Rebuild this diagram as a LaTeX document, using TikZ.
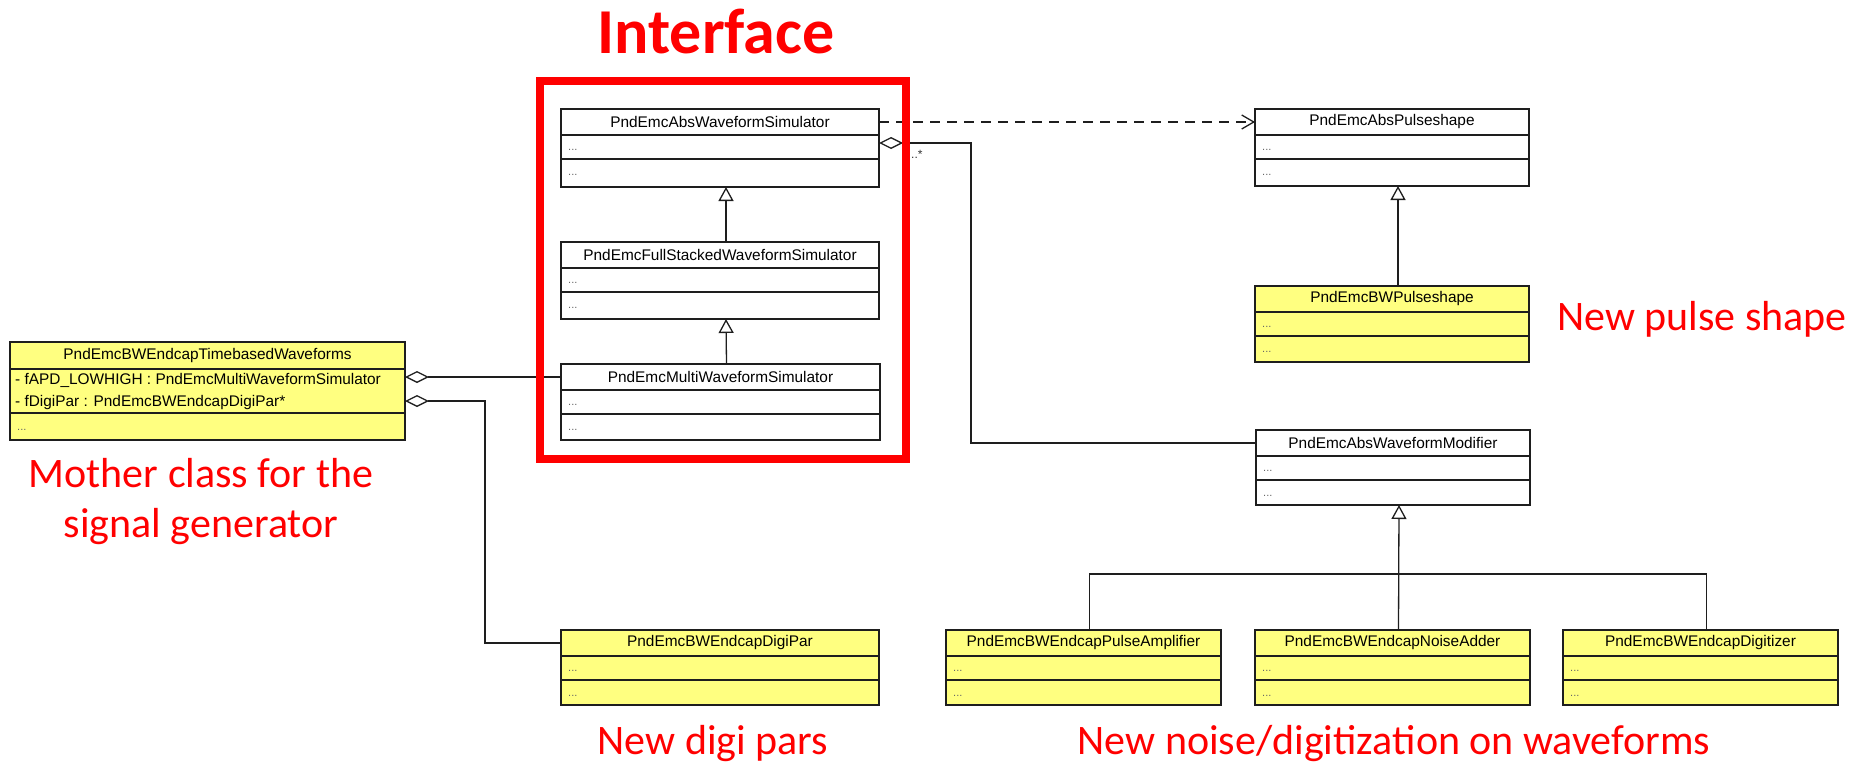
\documentclass[tikz,border=0pt]{standalone}
\usepackage{fontspec}
\setmainfont{Liberation Sans}
\newfontfamily\calloutfont{Carlito}
\usetikzlibrary{arrows.meta,calc,fit}

\definecolor{umlyellow}{RGB}{255,255,128}
\definecolor{umlline}{RGB}{30,30,30}
\definecolor{calloutred}{RGB}{255,0,0}

\tikzset{
  classbox/.style={draw=umlline, line width=1.4pt, inner sep=0pt, outer sep=0pt},
  classtitle/.style={font=\fontsize{15.4}{18}\selectfont, inner sep=0pt, text=black},
  member/.style={font=\fontsize{15.4}{18}\selectfont, inner sep=0pt, anchor=west, text=black},
  ellip/.style={font=\fontsize{11}{12}\selectfont, text=black!60, inner sep=0pt, anchor=base west},
  multlabel/.style={font=\fontsize{12}{13}\selectfont, text=black!80, inner sep=0pt, anchor=base west},
  sepline/.style={draw=umlline, line width=1.2pt},
  conn/.style={draw=umlline, line width=1.3pt},
  inherit/.style={conn, -{Triangle[open, length=14pt, width=15pt]}},
  aggr/.style={conn, {Diamond[open, length=24pt, width=12pt]}-},
  depend/.style={conn, dash pattern=on 10pt off 7pt, -{Straight Barb[length=12pt, width=14pt]}},
  callout/.style={font=\calloutfont\fontsize{42}{49.4}\selectfont, text=calloutred, inner sep=0pt},
  framebox/.style={draw=calloutred, line width=8pt, inner sep=0pt, outer sep=0pt},
}

% UML class: name, left, top, right, bottom, title, fill colour
\newcommand{\umlclass}[7]{%
  \node[classbox, fill=#7, fit={(#2,#3) (#4,#5)}] (#1) {};
  \draw[sepline] ($(#1.north west)+(0,26)$) -- ($(#1.north east)+(0,26)$);
  \draw[sepline] ($(#1.north west)+(0,50)$) -- ($(#1.north east)+(0,50)$);
  \node[classtitle] (#1-title) at ($(#1.north)+(0,13)$) {#6};
  \node[ellip] at ($(#1.north west)+(7,41)$) {...};
  \node[ellip] at ($(#1.north west)+(7,66)$) {...};
}

\begin{document}
\begin{tikzpicture}[x=1pt, y=-1pt]
\useasboundingbox (0,0) rectangle (1864,763);

% interface hierarchy
\umlclass{absw}{561}{109}{879}{187}{PndEmcAbsWaveformSimulator}{white}
\umlclass{full}{561}{242}{879}{319}{PndEmcFullStackedWaveformSimulator}{white}
\umlclass{multi}{561}{364}{880}{440}{PndEmcMultiWaveformSimulator}{white}

% pulse shapes
\umlclass{pulse}{1255}{109}{1529}{186}{PndEmcAbsPulseshape}{white}
\umlclass{bwpulse}{1255}{286}{1529}{362}{PndEmcBWPulseshape}{umlyellow}

% waveform modifiers
\umlclass{modif}{1256}{430}{1530}{505}{PndEmcAbsWaveformModifier}{white}
\umlclass{pa}{946}{630}{1221}{705}{PndEmcBWEndcapPulseAmplifier}{umlyellow}
\umlclass{na}{1255}{630}{1530}{705}{PndEmcBWEndcapNoiseAdder}{umlyellow}
\umlclass{dig}{1563}{630}{1838}{705}{PndEmcBWEndcapDigitizer}{umlyellow}

% digitisation parameters
\umlclass{digipar}{561}{630}{879}{705}{PndEmcBWEndcapDigiPar}{umlyellow}

% mother class with two attributes
\node[classbox, fill=umlyellow, fit={(10,342) (405,440)}] (tb) {};
\draw[sepline] ($(tb.north west)+(0,27)$) -- ($(tb.north east)+(0,27)$);
\draw[sepline] ($(tb.north west)+(0,71)$) -- ($(tb.north east)+(0,71)$);
\node[classtitle] (tb-title) at ($(tb.north)+(0,13.5)$) {PndEmcBWEndcapTimebasedWaveforms};
\node[member] (tb-m1) at ($(tb.north west)+(5,38)$) {- fAPD\_LOWHIGH : PndEmcMultiWaveformSimulator};
\node[member] (tb-m2) at ($(tb.north west)+(5,61)$) {- fDigiPar : PndEmcBWEndcapDigiPar*};
\node[ellip] at ($(tb.north west)+(7,88)$) {...};

% generalisations
\draw[inherit] ([xshift=6pt]full.north) -- ([xshift=6pt]absw.south);
\draw[inherit] ([xshift=6pt]multi.north) -- ([xshift=6pt]full.south);
\draw[inherit] ([xshift=6pt]bwpulse.north) -- ([xshift=6pt]pulse.south);
\draw[inherit] ([xshift=6pt]na.north) -- ([xshift=6pt]modif.south);
\draw[conn] ([xshift=6pt]pa.north) -- ++(0,-56) -| ([xshift=6pt]dig.north);

% dependency on the pulse shape
\draw[depend] (absw-title -| absw.east) -- (absw-title -| pulse.west);

% aggregations
\draw[aggr] ($(absw.north east)+(0,34)$) -- ++(92,0) |- (modif-title -| modif.west);
\node[multlabel] (mult) at (911,158) {..*};
\draw[aggr] (multi-title -| tb.east) -- (multi-title -| multi.west);
\draw[aggr] ($(tb.north east)+(0,59)$) -- ++(80,0) |- (digipar-title -| digipar.west);

% interface frame and annotations
\node[framebox, fit={(540,80.5) (906,459)}] (iface-frame) {};
\node[font=\calloutfont\bfseries\fontsize{64}{70}\selectfont, text=calloutred, inner sep=0pt, anchor=base] (iface-label) at (716,53) {Interface};
\node[callout, anchor=base] (lbl-pulse) at (1702,330) {New pulse shape};
\node[callout, align=center, anchor=base] (lbl-mother) at (201,537) {Mother class for the\\signal generator};
\node[callout, anchor=base] (lbl-digi) at (713,754) {New digi pars};
\node[callout, anchor=base] (lbl-noise) at (1394,754) {New noise/digitization on waveforms};
\end{tikzpicture}
\end{document}
